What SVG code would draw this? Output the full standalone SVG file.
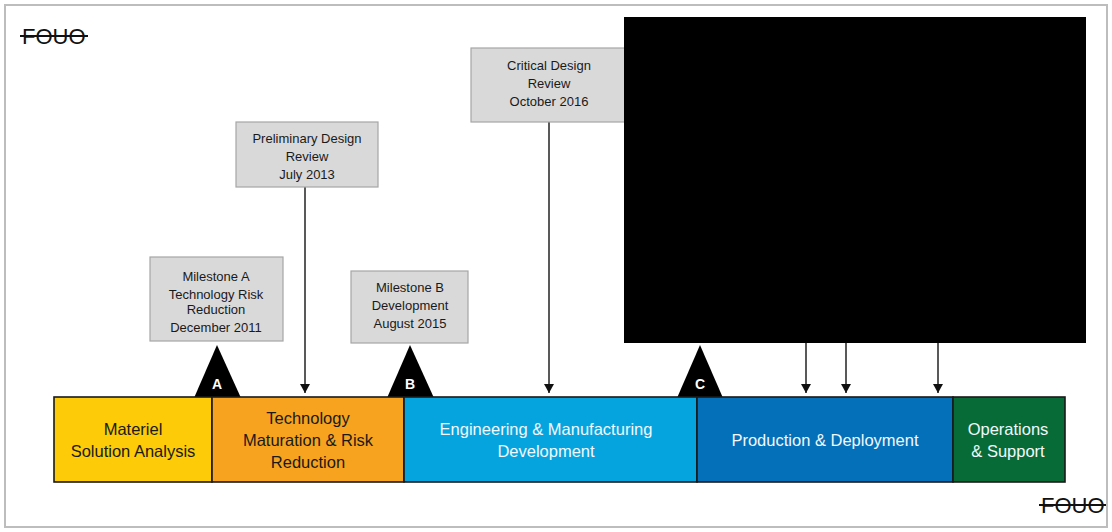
<svg xmlns="http://www.w3.org/2000/svg" width="1112" height="532" viewBox="0 0 1112 532">
  <style>
    .frame { fill: #ffffff; stroke: #bdbdbd; stroke-width: 2; }
    .mark { font-family: "Liberation Sans", Arial, sans-serif; font-size: 22px; fill: #111; }
    .strike { stroke: #111; stroke-width: 2; }
    .callout rect { fill: #d9d9d9; stroke: #a6a6a6; stroke-width: 1.2; }
    .callout text { font-family: "Liberation Sans", Arial, sans-serif; font-size: 13px; fill: #1a1a1a; text-anchor: middle; }
    .phase rect { stroke: #1a1a1a; stroke-width: 1.6; }
    .phase text { font-family: "Liberation Sans", Arial, sans-serif; font-size: 16.5px; text-anchor: middle; }
    .dark { fill: #1a1a1a; }
    .light { fill: #f2f8fc; }
    .ms polygon { fill: #000; }
    .ms text { font-family: "Liberation Sans", Arial, sans-serif; font-size: 14px; font-weight: bold; fill: #fff; text-anchor: middle; }
    .lead { stroke: #222; stroke-width: 1.5; fill: none; marker-end: url(#tip); }
  </style>
  <defs>
    <marker id="tip" markerUnits="userSpaceOnUse" markerWidth="10" markerHeight="10" refX="9" refY="5" orient="auto">
      <path d="M0,0 L9,5 L0,10 Z" fill="#111"/>
    </marker>
  </defs>

  <!-- page frame -->
  <rect class="frame" x="5" y="5" width="1102" height="522"/>

  <!-- handling markings -->
  <g id="marking-top">
    <text class="mark" x="22" y="44">FOUO</text>
    <line class="strike" x1="20" y1="36" x2="88" y2="36"/>
  </g>
  <g id="marking-bottom">
    <text class="mark" x="1041" y="513">FOUO</text>
    <line class="strike" x1="1039" y1="505" x2="1106" y2="505"/>
  </g>

  <!-- leader arrows from review boxes to the phase bar -->
  <g id="connectors">
    <line class="lead" x1="305" y1="187" x2="305" y2="393"/>
    <line class="lead" x1="549" y1="122" x2="549" y2="393"/>
    <line class="lead" x1="806" y1="343" x2="806" y2="393"/>
    <line class="lead" x1="846" y1="343" x2="846" y2="393"/>
    <line class="lead" x1="938" y1="343" x2="938" y2="393"/>
  </g>

  <!-- event callouts -->
  <g id="pdr" class="callout">
    <rect x="236" y="122" width="142" height="65"/>
    <text x="307" y="143">Preliminary Design</text>
    <text x="307" y="161">Review</text>
    <text x="307" y="179">July 2013</text>
  </g>
  <g id="cdr" class="callout">
    <rect x="471" y="48" width="156" height="74"/>
    <text x="549" y="70">Critical Design</text>
    <text x="549" y="88">Review</text>
    <text x="549" y="106">October 2016</text>
  </g>
  <g id="milestone-a-note" class="callout">
    <rect x="150" y="257" width="133" height="84"/>
    <text x="216" y="281">Milestone A</text>
    <text x="216" y="299">Technology Risk</text>
    <text x="216" y="314">Reduction</text>
    <text x="216" y="332">December 2011</text>
  </g>
  <g id="milestone-b-note" class="callout">
    <rect x="351" y="271" width="117" height="72"/>
    <text x="410" y="292">Milestone B</text>
    <text x="410" y="310">Development</text>
    <text x="410" y="328">August 2015</text>
  </g>

  <!-- milestone markers -->
  <g id="milestone-a" class="ms">
    <polygon points="217,345 194,398 241,398"/>
    <text x="217" y="389">A</text>
  </g>
  <g id="milestone-b" class="ms">
    <polygon points="410,345 387,398 434,398"/>
    <text x="410" y="389">B</text>
  </g>
  <g id="milestone-c" class="ms">
    <polygon points="700,345 677,398 723,398"/>
    <text x="700" y="389">C</text>
  </g>

  <!-- acquisition phases -->
  <g id="phase-msa" class="phase">
    <rect x="54" y="397" width="158" height="85" fill="#fdcb08"/>
    <text class="dark" x="133" y="435">Materiel</text>
    <text class="dark" x="133" y="457">Solution Analysis</text>
  </g>
  <g id="phase-tmrr" class="phase">
    <rect x="212" y="397" width="192" height="85" fill="#f7a31f"/>
    <text class="dark" x="308" y="424">Technology</text>
    <text class="dark" x="308" y="446">Maturation &amp; Risk</text>
    <text class="dark" x="308" y="468">Reduction</text>
  </g>
  <g id="phase-emd" class="phase">
    <rect x="404" y="397" width="293" height="85" fill="#06a4de"/>
    <text class="light" x="546" y="435">Engineering &amp; Manufacturing</text>
    <text class="light" x="546" y="457">Development</text>
  </g>
  <g id="phase-pd" class="phase">
    <rect x="697" y="397" width="256" height="85" fill="#0470b9"/>
    <text class="light" x="825" y="446">Production &amp; Deployment</text>
  </g>
  <g id="phase-os" class="phase">
    <rect x="953" y="397" width="112" height="85" fill="#076b38"/>
    <text class="light" x="1008" y="435">Operations</text>
    <text class="light" x="1008" y="457">&amp; Support</text>
  </g>

  <!-- redacted block -->
  <rect id="redaction" x="624" y="17" width="462" height="326" fill="#000"/>
</svg>
